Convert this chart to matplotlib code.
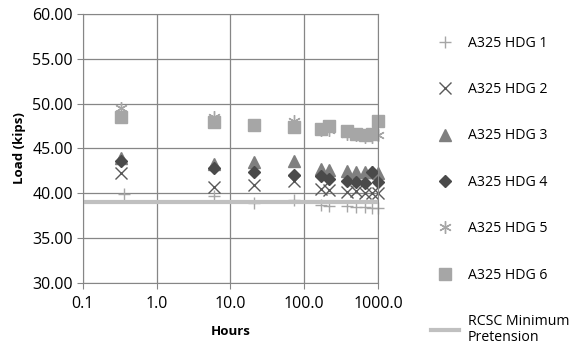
import numpy as np
import matplotlib.pyplot as plt
from matplotlib.ticker import FuncFormatter, FixedLocator

plt.rcParams['font.family'] = ['Open Sans', 'DejaVu Sans']

# Elapsed time (hours) for each reading
hours = [0.33, 6, 21, 72, 168, 216, 384, 504, 672, 840, 1000]
hours_1 = [0.36, 6, 21, 72, 168, 216, 384, 504, 672, 840, 1000]

# Bolt loads (kips)
hdg1 = [39.9, 39.7, 38.9, 39.2, 38.7, 38.6, 38.5, 38.4, 38.4, 38.3, 38.3]
hdg2 = [42.2, 40.7, 40.9, 41.3, 40.4, 40.3, 40.1, 40.2, 40.0, 40.0, 40.0]
hdg3 = [43.9, 43.3, 43.5, 43.6, 42.7, 42.6, 42.5, 42.4, 42.4, 42.4, 42.2]
hdg4 = [43.6, 42.8, 42.4, 42.0, 41.9, 41.6, 41.4, 41.2, 41.1, 42.3, 41.2]
hdg5 = [49.5, 48.5, 47.6, 48.1, 47.0, 47.0, 46.6, 46.5, 46.3, 46.3, 46.5]
hdg6 = [48.5, 47.9, 47.6, 47.4, 47.2, 47.5, 46.9, 46.6, 46.5, 46.6, 48.0]

rcsc_min = 39.0

fig = plt.figure(figsize=(5.71, 3.51), dpi=100)
ax = fig.add_axes([0.145, 0.195, 0.517, 0.765])

kw = dict(ls='none', clip_on=False)
ax.plot(hours_1, hdg1, marker='+', ms=9, mew=1.0, color='#a6a6a6', label='A325 HDG 1', **kw)
ax.plot(hours, hdg2, marker='x', ms=8, mew=1.0, color='#595959', label='A325 HDG 2', **kw)
ax.plot(hours, hdg3, marker='^', ms=8, color='#7f7f7f', label='A325 HDG 3', **kw)
ax.plot(hours, hdg4, marker='D', ms=6.5, color='#4a4a4a', label='A325 HDG 4', **kw)
ax.plot(hours, hdg5, marker=(6, 2, 0), ms=9, mew=1.0, color='#a6a6a6', label='A325 HDG 5', **kw)
ax.plot(hours, hdg6, marker='s', ms=8.5, color='#a6a6a6', label='A325 HDG 6', **kw)
ax.plot([0.1, 1000], [rcsc_min, rcsc_min], color='#c0c0c0', lw=3, label='RCSC Minimum\nPretension')

ax.set_xscale('log')
ax.set_xlim(0.1, 1000)
ax.set_ylim(30, 60)
ax.xaxis.set_major_locator(FixedLocator([0.1, 1, 10, 100, 1000]))
ax.xaxis.set_minor_locator(FixedLocator([]))
ax.xaxis.set_major_formatter(FuncFormatter(lambda v, p: '%.1f' % v))
ax.set_yticks(np.arange(30, 61, 5))
ax.yaxis.set_major_formatter(FuncFormatter(lambda v, p: '%.2f' % v))
ax.tick_params(labelsize=11.5, color='#868686', length=4)
ax.tick_params(axis='y', pad=3)
ax.tick_params(axis='x', pad=6)
ax.grid(True, color='#868686', lw=0.9)
ax.set_axisbelow(True)
for s in ax.spines.values():
    s.set_color('#868686')

ax.set_xlabel('Hours', fontsize=9.5, fontweight='bold', labelpad=9)
ax.set_ylabel('Load (kips)', fontsize=9.5, fontweight='bold', labelpad=5)

leg = fig.legend(loc='upper left', bbox_to_anchor=(0.732, 0.935), frameon=False,
                 fontsize=10.2, labelspacing=2.22, handlelength=2.0, handletextpad=0.6)
for t in leg.get_texts():
    t.set_linespacing(1.05)

fig.savefig('out.png', dpi=100)
